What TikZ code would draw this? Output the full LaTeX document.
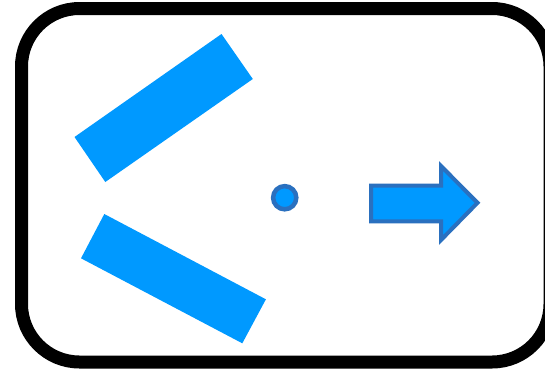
\documentclass[tikz,border=0pt]{standalone}
\definecolor{barblue}{HTML}{0099FF}
\definecolor{edgeblue}{HTML}{2A70BF}
\tikzset{
  frame/.style={draw=black, line width=13pt, rounded corners=58pt},
  bar/.style={fill=barblue, draw=none},
  dotshape/.style={fill=barblue, draw=edgeblue, line width=4.5pt},
  arrowshape/.style={fill=barblue, draw=edgeblue, line width=4pt, line join=miter}
}
\begin{document}
\begin{tikzpicture}[x=1pt,y=-1pt]
\useasboundingbox (0,0) rectangle (545,370);
\clip (0,0) rectangle (545,370);
\fill[white] (0,0) rectangle (545,370);
\draw[frame] (21.5,8.5) rectangle (550,362);
% upper bar
\fill[bar] (74.5,137) -- (221.5,34) -- (252.8,79) -- (105.3,182) -- cycle;
% lower bar
\fill[bar] (104.3,214) -- (265.9,299.3) -- (242.3,343.3) -- (81,258.3) -- cycle;
% dot
\draw[dotshape] (284.7,197.7) circle (11.6);
% arrow
\draw[arrowshape] (371,185.5) -- (441,185.5) -- (441,166) -- (477.5,202.8) -- (441,240) -- (441,221.3) -- (371,221.3) -- cycle;
\end{tikzpicture}
\end{document}
